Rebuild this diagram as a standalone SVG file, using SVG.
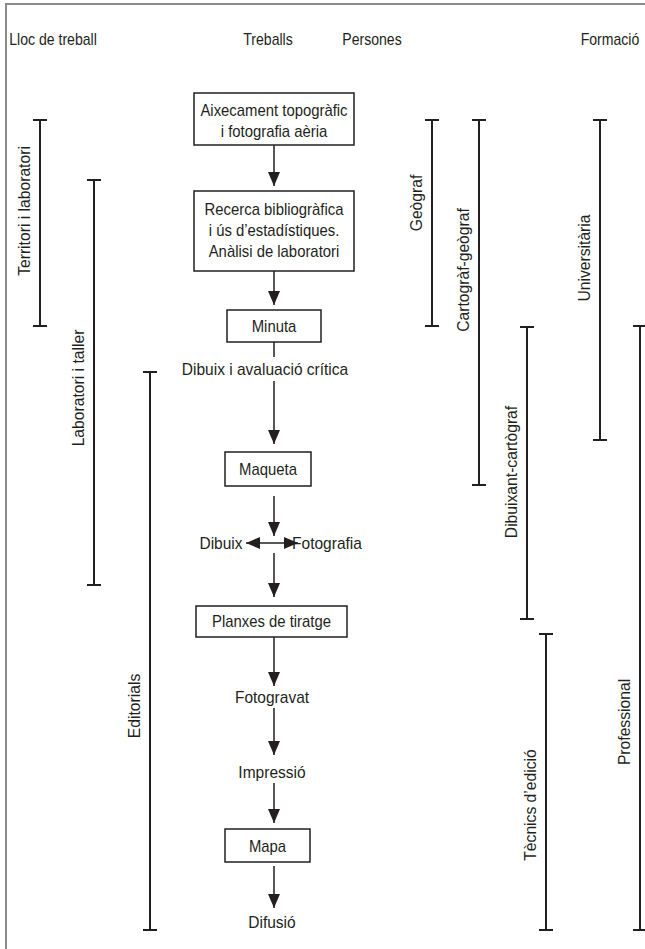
<svg xmlns="http://www.w3.org/2000/svg" width="645" height="949" viewBox="0 0 645 949">
<defs>
<marker id="ah" markerUnits="userSpaceOnUse" markerWidth="14" markerHeight="14" refX="14" refY="6" orient="auto">
<path d="M0,0 L14,6 L0,12 z" fill="#231f20"/>
</marker>
<marker id="ahs" markerUnits="userSpaceOnUse" markerWidth="14" markerHeight="14" refX="14" refY="6" orient="auto-start-reverse">
<path d="M0,0 L14,6 L0,12 z" fill="#231f20"/>
</marker>
</defs>
<style>
text{font-family:"Liberation Sans",Arial,sans-serif;font-size:16px;fill:#231f20;transform:scaleX(0.93);transform-box:fill-box;transform-origin:center}
.h{transform:scaleX(0.88)}
.f{transform:scaleX(0.97)}
.r{transform:scaleX(0.98)}
.c{text-anchor:middle}
.box{fill:#fff;stroke:#231f20;stroke-width:1.5}
.ln{stroke:#231f20;stroke-width:1.5;fill:none}
.br{stroke:#231f20;stroke-width:2;fill:none}
.frame{stroke:#8a8a8a;stroke-width:2;fill:none}
</style>
<rect width="645" height="949" fill="#fff"/>
<path class="frame" d="M6,949 V4 H645"/>

<g id="headers">
<text x="53" y="45" class="c h">Lloc de treball</text>
<text x="268" y="45" class="c h">Treballs</text>
<text x="372" y="45" class="c h">Persones</text>
<text x="610" y="45" class="c h">Formació</text>
</g>

<g id="connectors">
<line class="ln" x1="274" y1="145" x2="274" y2="186" marker-end="url(#ah)"/>
<line class="ln" x1="274" y1="271" x2="274" y2="305" marker-end="url(#ah)"/>
<line class="ln" x1="274" y1="342" x2="274" y2="357"/>
<line class="ln" x1="274" y1="381" x2="274" y2="444" marker-end="url(#ah)"/>
<line class="ln" x1="274" y1="496" x2="274" y2="536" marker-end="url(#ah)"/>
<line class="ln" x1="246" y1="543" x2="298" y2="543" marker-start="url(#ahs)" marker-end="url(#ah)"/>
<line class="ln" x1="274" y1="553" x2="274" y2="597" marker-end="url(#ah)"/>
<line class="ln" x1="274" y1="637" x2="274" y2="686" marker-end="url(#ah)"/>
<line class="ln" x1="274" y1="708" x2="274" y2="755" marker-end="url(#ah)"/>
<line class="ln" x1="274" y1="783" x2="274" y2="823" marker-end="url(#ah)"/>
<line class="ln" x1="274" y1="866" x2="274" y2="908" marker-end="url(#ah)"/>
</g>

<g id="n-aixecament">
<rect class="box" x="194" y="93" width="160" height="52"/>
<text x="274" y="116" class="c">Aixecament topogràfic</text>
<text x="274" y="137" class="c">i fotografia aèria</text>
</g>
<g id="n-recerca">
<rect class="box" x="194" y="191" width="160" height="80"/>
<text x="274" y="215" class="c">Recerca bibliogràfica</text>
<text x="274" y="236" class="c">i ús d’estadístiques.</text>
<text x="274" y="257" class="c">Anàlisi de laboratori</text>
</g>
<g id="n-minuta">
<rect class="box" x="227" y="310" width="94" height="32"/>
<text x="274" y="332" class="c">Minuta</text>
</g>
<g id="n-dibuix-aval">
<text x="265" y="375" class="c f">Dibuix i avaluació crítica</text>
</g>
<g id="n-maqueta">
<rect class="box" x="225" y="452" width="86" height="34"/>
<text x="268" y="475" class="c">Maqueta</text>
</g>
<g id="n-dibuix">
<text x="221" y="549" class="c f">Dibuix</text>
</g>
<g id="n-fotografia">
<text x="327" y="549" class="c f">Fotografia</text>
</g>
<g id="n-planxes">
<rect class="box" x="196" y="606" width="151" height="31"/>
<text x="271.5" y="627" class="c">Planxes de tiratge</text>
</g>
<g id="n-fotogravat">
<text x="272" y="703" class="c f">Fotogravat</text>
</g>
<g id="n-impressio">
<text x="272" y="778" class="c f">Impressió</text>
</g>
<g id="n-mapa">
<rect class="box" x="225" y="829" width="85" height="33"/>
<text x="267.5" y="852" class="c">Mapa</text>
</g>
<g id="n-difusio">
<text x="272" y="928" class="c f">Difusió</text>
</g>

<g id="b-territori">
<path class="br" d="M40,120 V326 M33,120 H47 M33,326 H47"/>
<g transform="translate(30,211) rotate(-90)"><text class="c r">Territori i laboratori</text></g>
</g>
<g id="b-laboratori">
<path class="br" d="M94,180 V585 M87,180 H101 M87,585 H101"/>
<g transform="translate(84,388) rotate(-90)"><text class="c r">Laboratori i taller</text></g>
</g>
<g id="b-editorials">
<path class="br" d="M150,372 V930 M143,372 H157 M143,930 H157"/>
<g transform="translate(140,706) rotate(-90)"><text class="c r">Editorials</text></g>
</g>
<g id="b-geograf">
<path class="br" d="M432,120 V326 M425,120 H439 M425,326 H439"/>
<g transform="translate(422,203) rotate(-90)"><text class="c r">Geògraf</text></g>
</g>
<g id="b-cartograf">
<path class="br" d="M479,120 V485 M472,120 H486 M472,485 H486"/>
<g transform="translate(469,270) rotate(-90)"><text class="c r">Cartogràf-geògraf</text></g>
</g>
<g id="b-dibuixant">
<path class="br" d="M527,327 V619 M520,327 H534 M520,619 H534"/>
<g transform="translate(517,472) rotate(-90)"><text class="c r">Dibuixant-cartògraf</text></g>
</g>
<g id="b-tecnics">
<path class="br" d="M546,634 V930 M539,634 H553 M539,930 H553"/>
<g transform="translate(536,805) rotate(-90)"><text class="c r">Tècnics d’edició</text></g>
</g>
<g id="b-universitaria">
<path class="br" d="M600,120 V440 M593,120 H607 M593,440 H607"/>
<g transform="translate(590,258) rotate(-90)"><text class="c r">Universitària</text></g>
</g>
<g id="b-professional">
<path class="br" d="M640,326 V930 M633,326 H645 M633,930 H645"/>
<g transform="translate(630,722) rotate(-90)"><text class="c r">Professional</text></g>
</g>
</svg>
